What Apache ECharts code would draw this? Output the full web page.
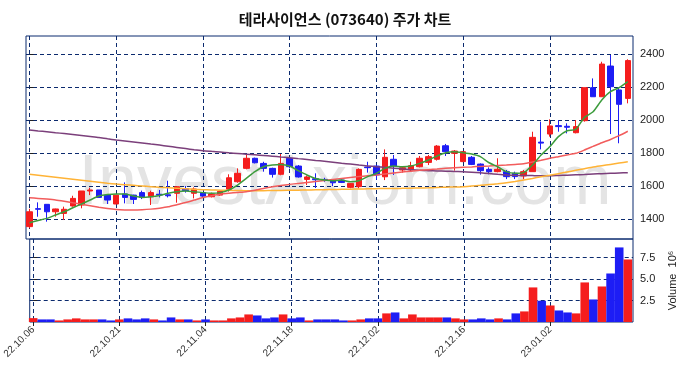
<!DOCTYPE html>
<html lang="ko">
<head>
    <meta charset="UTF-8">
    <title>테라사이언스 주가 차트</title>
    <style>
        html, body { margin: 0; padding: 0; background: #fff; }
        #main { width: 690px; height: 378px; }
    </style>
</head>
<body>
<div id="main"></div>
<script src="https://cdn.jsdelivr.net/npm/echarts@6/dist/echarts.min.js"></script>
<script type="text/javascript">
    // 거래일
    var dates = ['22.10.06','22.10.07','22.10.11','22.10.12','22.10.13','22.10.14','22.10.17','22.10.18','22.10.19','22.10.20',
        '22.10.21','22.10.24','22.10.25','22.10.26','22.10.27','22.10.28','22.10.31','22.11.01','22.11.02','22.11.03',
        '22.11.04','22.11.07','22.11.08','22.11.09','22.11.10','22.11.11','22.11.14','22.11.15','22.11.16','22.11.17',
        '22.11.18','22.11.21','22.11.22','22.11.23','22.11.24','22.11.25','22.11.28','22.11.29','22.11.30','22.12.01',
        '22.12.02','22.12.05','22.12.06','22.12.07','22.12.08','22.12.09','22.12.12','22.12.13','22.12.14','22.12.15',
        '22.12.16','22.12.19','22.12.20','22.12.21','22.12.22','22.12.23','22.12.26','22.12.27','22.12.28','22.12.29',
        '23.01.02','23.01.03','23.01.04','23.01.05','23.01.06','23.01.09','23.01.10','23.01.11','23.01.12','23.01.13'];

    var opens = [1354,1463,1489,1444,1434,1479,1485,1570,1576,1545, 1491,1552,1545,1560,1535,1550,1547,1556,1584,1556,
        1560,1535,1545,1580,1626,1707,1768,1737,1707,1671, 1768,1721,1640,1644,1640,1636,1636,1592,1596,1715,
        1721,1656,1762,1697,1697,1717,1743,1762,1844,1798, 1748,1774,1733,1701,1687,1687,1677,1661,1687,1866,
        1915,1966,1962,1923,1996,2196,2141,2327,2182,2131];
    var closes = [1444,1459,1444,1461,1459,1525,1570,1576,1531,1515, 1545,1531,1519,1531,1560,1545,1541,1596,1572,1582,
        1539,1552,1568,1650,1677,1768,1741,1707,1671,1737, 1717,1655,1655,1638,1636,1620,1622,1616,1701,1711,
        1667,1774,1721,1711,1723,1768,1778,1842,1808,1812, 1808,1731,1693,1687,1701,1657,1657,1687,1895,1860,
        1964,1960,1956,1960,2196,2141,2339,2202,2095,2360];
    var lows = [1345,1414,1384,1414,1394,1475,1465,1545,1531,1491, 1491,1495,1491,1521,1485,1531,1531,1499,1560,1525,
        1531,1531,1541,1566,1620,1701,1737,1687,1651,1665, 1707,1651,1606,1588,1626,1600,1618,1586,1586,1681,
        1638,1636,1667,1681,1687,1713,1727,1754,1782,1693, 1745,1727,1669,1671,1683,1642,1642,1642,1687,1822,
        1899,1929,1919,1919,1990,2141,2141,1915,1859,2101];
    var highs = [1462,1501,1489,1463,1475,1541,1570,1590,1576,1545, 1545,1622,1547,1572,1572,1576,1632,1600,1600,1592,
        1562,1560,1576,1671,1707,1788,1772,1747,1711,1794, 1774,1727,1663,1677,1650,1640,1640,1618,1707,1747,
        1727,1822,1788,1717,1747,1782,1788,1848,1855,1818, 1812,1782,1737,1713,1768,1697,1687,1697,1929,1990,
        2004,2000,1980,2000,2196,2252,2353,2394,2196,2368];

    // 거래량 (백만주)
    var volumes = [0.45,0.30,0.30,0.18,0.30,0.42,0.30,0.30,0.30,0.18, 0.30,0.42,0.30,0.42,0.30,0.18,0.53,0.30,0.30,0.18,
        0.30,0.18,0.18,0.42,0.53,0.88,0.76,0.42,0.53,0.88, 0.42,0.53,0.18,0.30,0.30,0.30,0.18,0.18,0.30,0.42,
        0.42,1.00,1.11,0.42,0.88,0.53,0.53,0.53,0.53,0.42, 0.30,0.30,0.42,0.30,0.42,0.30,1.00,1.23,4.02,2.47,
        1.92,1.34,1.11,1.00,4.60,2.62,4.13,5.64,8.67,7.27];

    // 이동평균선
    var ma5 = [1378,1391,1404,1424,1444,1468,1491,1515,1539,1548, 1552,1552,1539,1531,1535,1543,1556,1566,1570,1566,
        1560,1556,1560,1576,1606,1646,1687,1717,1727,1731, 1721,1693,1667,1646,1636,1632,1636,1626,1632,1657,
        1677,1707,1721,1717,1721,1737,1758,1782,1802,1808, 1802,1794,1778,1741,1717,1687,1677,1681,1727,1788,
        1838,1899,1935,1943,2016,2050,2121,2172,2196,2232];
    var ma20 = [1529,1525,1521,1516,1508,1499,1490,1481,1472,1464, 1458,1455,1454,1456,1460,1466,1474,1487,1500,1515,
        1530,1541,1550,1556,1561,1566,1575,1585,1595,1603, 1610,1616,1622,1628,1633,1639,1645,1651,1657,1662,
        1667,1673,1679,1685,1690,1695,1699,1703,1707,1710, 1713,1716,1719,1721,1724,1727,1731,1735,1745,1756,
        1768,1778,1788,1798,1818,1840,1862,1882,1905,1932];
    var ma60 = [1671,1665,1659,1653,1647,1641,1635,1629,1623,1617, 1612,1608,1604,1600,1596,1592,1589,1586,1583,1580,
        1578,1576,1575,1574,1573,1572,1572,1572,1573,1573, 1574,1575,1576,1577,1578,1579,1580,1581,1582,1583,
        1584,1585,1585,1586,1587,1588,1589,1591,1593,1594, 1596,1600,1604,1609,1614,1620,1628,1637,1646,1656,
        1665,1675,1685,1695,1705,1715,1723,1731,1739,1747];
    var ma120 = [1939,1934,1929,1923,1918,1912,1906,1900,1894,1886, 1879,1873,1867,1861,1854,1848,1841,1834,1827,1820,
        1814,1810,1806,1801,1797,1793,1789,1785,1781,1776, 1772,1766,1761,1755,1750,1744,1738,1733,1727,1722,
        1717,1713,1708,1703,1699,1695,1693,1691,1690,1688, 1687,1684,1680,1676,1671,1667,1665,1664,1663,1662,
        1662,1664,1666,1668,1670,1673,1675,1677,1679,1681];

    var dateTicks = [0, 10, 20, 30, 40, 50, 60];
    var priceTicks = [1400, 1600, 1800, 2000, 2200, 2400];
    var volumeTicks = [2.5, 5.0, 7.5];

    var UP = '#f51d1d', DOWN = '#1d1df5', NAVY = '#0b2a6e';

    var candleData = dates.map(function (d, i) {
        return [i, opens[i], closes[i], lows[i], highs[i]];
    });
    var volumeData = volumes.map(function (v, i) {
        return { value: [i, v], itemStyle: { color: closes[i] >= opens[i] ? UP : DOWN } };
    });
    function pairs(arr) {
        return arr.map(function (v, i) { return [i, v]; });
    }
    function maLine(name, arr, color) {
        return {
            name: name, type: 'line', data: pairs(arr), xAxisIndex: 0, yAxisIndex: 0,
            showSymbol: false, smooth: 0.2, z: 4,
            lineStyle: { color: color, width: 1.5 }
        };
    }

    var dash = { color: NAVY, type: [4, 3], width: 1 };
    var chart = echarts.init(document.getElementById('main'));
    var option = {
        animation: false,
        title: {
            text: '테라사이언스 (073640) 주가 차트',
            left: 'center', top: 7,
            textStyle: { fontFamily: 'Noto Sans CJK KR', fontSize: 15, fontWeight: 'bold', color: '#111' }
        },
        graphic: [{
            type: 'text', left: 'center', top: 150, z: -10,
            style: { text: 'InvestAxiom.com', fontFamily: 'Liberation Sans', fontSize: 70, fill: '#e4e4e4' }
        }],
        grid: [
            { left: 26, right: 57, top: 36, height: 203, show: true, borderColor: NAVY, borderWidth: 1 },
            { left: 26, right: 57, top: 239, height: 83, show: true, borderColor: NAVY, borderWidth: 1 }
        ],
        xAxis: [
            {
                type: 'value', gridIndex: 0, min: -0.4, max: 69.6,
                axisLine: { show: false }, axisTick: { show: false, customValues: dateTicks },
                axisLabel: { show: false, customValues: dateTicks },
                splitLine: { show: true, lineStyle: dash }
            },
            {
                type: 'value', gridIndex: 1, min: -0.4, max: 69.6,
                axisLine: { show: false },
                axisTick: { show: true, length: 4, lineStyle: { color: '#222' }, customValues: dateTicks },
                axisLabel: {
                    customValues: dateTicks, rotate: 45, fontSize: 10, color: '#333', margin: 6,
                    fontFamily: 'Liberation Sans', hideOverlap: false,
                    formatter: function (v) { return dates[v] !== undefined && v % 10 === 0 ? dates[v] : ''; }
                },
                splitLine: { show: true, lineStyle: dash }
            }
        ],
        yAxis: [
            {
                type: 'value', gridIndex: 0, position: 'right', min: 1279, max: 2509, splitNumber: 6,
                axisLine: { show: false },
                axisTick: { show: true, length: 4, lineStyle: { color: '#222' }, customValues: priceTicks },
                axisLabel: {
                    customValues: priceTicks, fontSize: 11, color: '#222', margin: 7, fontFamily: 'Liberation Sans',
                    formatter: function (v) { return v % 200 === 0 ? v : ''; }
                },
                splitLine: { show: true, lineStyle: dash }
            },
            {
                type: 'value', gridIndex: 1, position: 'right', min: 0, max: 9.65, interval: 2.5,
                name: 'Volume  10⁶', nameLocation: 'middle', nameRotate: 90, nameGap: 34,
                nameTextStyle: { fontSize: 11, color: '#222', fontFamily: 'Liberation Sans' },
                axisLine: { show: false },
                axisTick: { show: true, length: 4, lineStyle: { color: '#222' }, customValues: volumeTicks },
                axisLabel: {
                    customValues: volumeTicks, fontSize: 11, color: '#222', margin: 7, fontFamily: 'Liberation Sans',
                    formatter: function (v) { return v > 0 && v < 9 ? v.toFixed(1) : ''; }
                },
                splitLine: { show: true, lineStyle: dash }
            }
        ],
        series: [
            {
                name: '주가', type: 'candlestick', data: candleData, xAxisIndex: 0, yAxisIndex: 0,
                encode: { x: 0, y: [1, 2, 3, 4] }, barWidth: 6, z: 3,
                itemStyle: { color: UP, color0: DOWN, borderColor: UP, borderColor0: DOWN, borderWidth: 1 }
            },
            maLine('MA120', ma120, '#7b3f7b'),
            maLine('MA60', ma60, '#ffb336'),
            maLine('MA20', ma20, '#f25c5c'),
            maLine('MA5', ma5, '#3c9c3c'),
            {
                name: 'Volume', type: 'bar', data: volumeData, xAxisIndex: 1, yAxisIndex: 1,
                barWidth: 8.6
            }
        ]
    };
    chart.setOption(option);
</script>
</body>
</html>
